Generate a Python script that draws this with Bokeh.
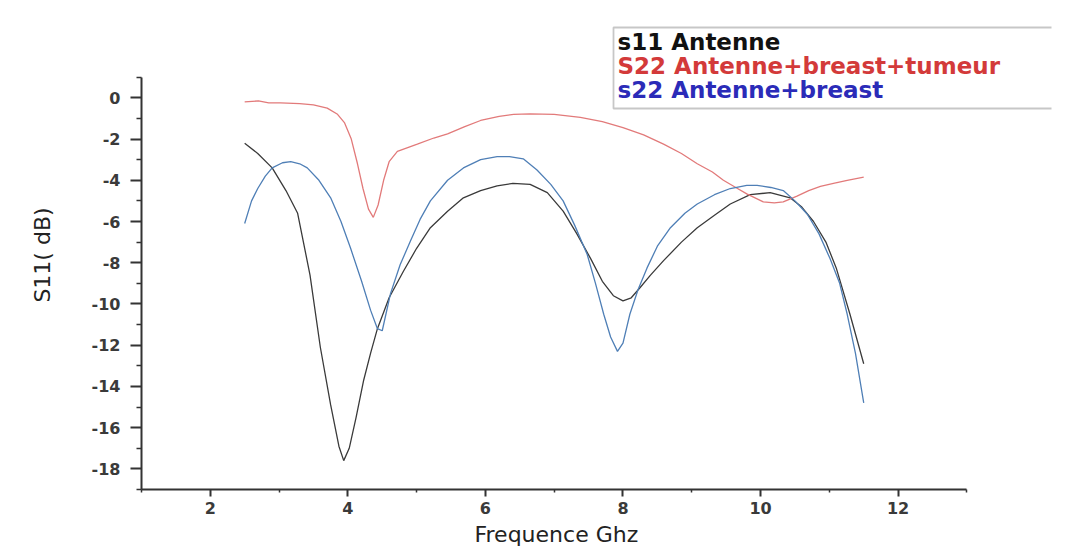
from bokeh.plotting import figure
from bokeh.models import Range1d, BoxAnnotation, Label, FixedTicker, Title
from bokeh.embed import file_html
from bokeh.resources import INLINE

# ---- data ----
s11_freq = [2.5, 2.69, 2.9, 3.1, 3.27, 3.45, 3.6, 3.75, 3.87, 3.94, 4.02, 4.12, 4.23, 4.33,
            4.43, 4.6, 4.81, 5.0, 5.2, 5.45, 5.68, 5.93, 6.17, 6.4, 6.65, 6.9, 7.13, 7.33,
            7.53, 7.7, 7.86, 8.0, 8.12, 8.25, 8.4, 8.59, 8.85, 9.08, 9.33, 9.56, 9.85,
            10.14, 10.43, 10.6, 10.77, 10.95, 11.1, 11.3, 11.5]
s11_db = [-2.2, -2.7, -3.4, -4.5, -5.6, -8.6, -12.1, -14.9, -16.9, -17.6, -17.0, -15.5, -13.7,
          -12.4, -11.2, -9.7, -8.4, -7.3, -6.3, -5.5, -4.85, -4.5, -4.27, -4.15, -4.2, -4.6,
          -5.5, -6.6, -7.8, -8.9, -9.6, -9.85, -9.7, -9.2, -8.6, -7.9, -7.0, -6.3, -5.7,
          -5.15, -4.7, -4.6, -4.85, -5.3, -6.0, -7.0, -8.25, -10.5, -12.9]

tum_freq = [2.5, 2.7, 2.85, 3.02, 3.3, 3.5, 3.7, 3.85, 3.95, 4.05, 4.14, 4.22, 4.3, 4.37,
            4.44, 4.52, 4.6, 4.72, 5.01, 5.25, 5.45, 5.7, 5.93, 6.2, 6.41, 6.65, 7.0, 7.38,
            7.7, 8.0, 8.3, 8.59, 8.85, 9.08, 9.3, 9.46, 9.64, 9.8, 10.04, 10.2, 10.33,
            10.53, 10.7, 10.87, 11.06, 11.26, 11.5]
tum_db = [-0.2, -0.15, -0.25, -0.25, -0.28, -0.34, -0.5, -0.8, -1.2, -2.0, -3.2, -4.4, -5.4,
          -5.8, -5.2, -4.0, -3.1, -2.6, -2.25, -1.95, -1.75, -1.4, -1.1, -0.9, -0.8, -0.78,
          -0.8, -0.95, -1.15, -1.45, -1.8, -2.25, -2.7, -3.2, -3.6, -4.0, -4.35, -4.66,
          -5.05, -5.1, -5.05, -4.77, -4.5, -4.3, -4.15, -4.0, -3.85]

br_freq = [2.5, 2.6, 2.69, 2.8, 2.9, 3.05, 3.17, 3.3, 3.41, 3.58, 3.75, 3.9, 4.04, 4.2, 4.33,
           4.43, 4.5, 4.62, 4.76, 4.91, 5.05, 5.2, 5.45, 5.68, 5.93, 6.17, 6.35, 6.55, 6.75,
           6.95, 7.13, 7.3, 7.48, 7.6, 7.72, 7.82, 7.92, 8.0, 8.1, 8.22, 8.35, 8.5, 8.69,
           8.9, 9.08, 9.33, 9.56, 9.8, 9.95, 10.15, 10.33, 10.5, 10.68, 10.85, 11.01, 11.15,
           11.26, 11.38, 11.5]
br_db = [-6.1, -5.0, -4.4, -3.8, -3.4, -3.15, -3.1, -3.2, -3.4, -4.0, -4.85, -6.0, -7.3, -8.9,
         -10.3, -11.2, -11.3, -9.5, -8.1, -6.95, -5.9, -5.0, -4.0, -3.4, -3.0, -2.85, -2.85,
         -2.96, -3.5, -4.2, -5.0, -6.2, -7.6, -9.0, -10.5, -11.6, -12.3, -11.9, -10.5, -9.3,
         -8.25, -7.2, -6.3, -5.6, -5.15, -4.7, -4.4, -4.25, -4.25, -4.35, -4.5, -5.0, -5.65,
         -6.6, -7.8, -9.0, -10.5, -12.4, -14.8]

series_names = ["s11 Antenne", "S22 Antenne+breast+tumeur", "s22 Antenne+breast"]
line_colors = ["#3a3a3a", "#e27a7a", "#4f7fb6"]
legend_colors = ["#111111", "#d33a3a", "#2b2bb8"]

x_ticks = [2, 4, 6, 8, 10, 12]
x_minor = [1, 3, 5, 7, 9, 11, 13]
y_ticks = [0, -2, -4, -6, -8, -10, -12, -14, -16, -18]
y_minor = [1, -1, -3, -5, -7, -9, -11, -13, -15, -17, -19]
y_tick_labels = ["0", "-2", "-4", "-6", "-8", "-10", "-12", "-14", "-16", "-18"]
x_title = "Frequence Ghz"
y_title = "S11( dB)"

# ---- figure ----
p = figure(frame_width=910, frame_height=469,
           x_range=Range1d(1, 14.23), y_range=Range1d(-19, 3.75),
           output_backend="svg", toolbar_location=None,
           min_border_left=141, min_border_top=20, min_border_right=4, min_border_bottom=0)
p.outline_line_color = None
p.xgrid.visible = False
p.ygrid.visible = False
p.background_fill_color = "white"

p.line(s11_freq, s11_db, line_color=line_colors[0], line_width=1.3)
p.line(tum_freq, tum_db, line_color=line_colors[1], line_width=1.3)
p.line(br_freq, br_db, line_color=line_colors[2], line_width=1.3)

for ax in (p.xaxis[0], p.yaxis[0]):
    ax.axis_line_color = "#333333"
    ax.axis_line_width = 2
    ax.major_tick_line_color = "#333333"
    ax.major_tick_line_width = 2
    ax.minor_tick_line_color = "#333333"
    ax.minor_tick_line_width = 1.5
    ax.major_tick_in = 0
    ax.minor_tick_in = 0
    ax.major_label_text_font = "DejaVu Sans"
    ax.major_label_text_font_size = "16px"
    ax.major_label_text_font_style = "bold"
    ax.major_label_text_color = "#3a3a3a"
    ax.axis_label_text_font = "DejaVu Sans"
    ax.axis_label_text_font_style = "normal"
    ax.axis_label_text_color = "#222222"

xa = p.xaxis[0]
xa.ticker = FixedTicker(ticks=x_ticks, minor_ticks=x_minor)
xa.bounds = (1, 13)
xa.major_tick_out = 7
xa.minor_tick_out = 3
xa.major_label_standoff = 5

ya = p.yaxis[0]
ya.ticker = FixedTicker(ticks=y_ticks, minor_ticks=y_minor)
ya.major_label_overrides = {t: l for t, l in zip(y_ticks, y_tick_labels)}
ya.bounds = (-19, 1)
ya.major_tick_out = 11
ya.minor_tick_out = 5
ya.major_label_standoff = 10
ya.axis_label = y_title
ya.axis_label_text_font_size = "22px"
ya.axis_label_standoff = 34

# x-axis title, placed under the middle of the axis bounds
p.add_layout(Title(text=x_title, align="left", offset=333, standoff=7,
                   text_font="DejaVu Sans", text_font_size="22px",
                   text_font_style="normal", text_color="#222222"), "below")

# ---- legend box (text only, as in the reference) ----
box = BoxAnnotation(left=472, right=930, bottom=381, top=462,
                    left_units="screen", right_units="screen",
                    bottom_units="screen", top_units="screen",
                    fill_color="white", fill_alpha=1.0,
                    line_color="#444444", line_width=1.8)
p.add_layout(box)
row_y = [448, 424, 400]
for name, col, yy in zip(series_names, legend_colors, row_y):
    p.add_layout(Label(x=476, y=yy, x_units="screen", y_units="screen", text=name,
                       text_color=col, text_font="DejaVu Sans", text_font_size="23px",
                       text_font_style="bold", text_baseline="middle"))

open("out.html", "w").write(file_html(p, INLINE))
